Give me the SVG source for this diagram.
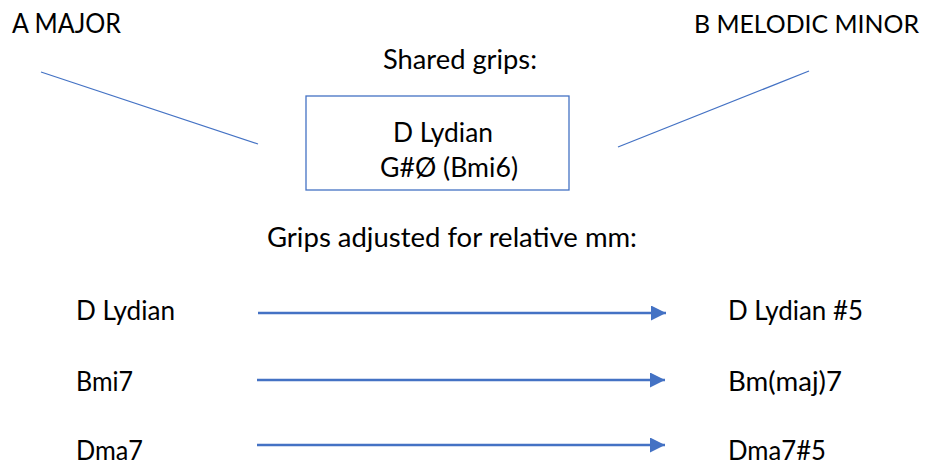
<svg xmlns="http://www.w3.org/2000/svg" width="925" height="465" viewBox="0 0 925 465">
<defs>
<style>
text{font-family:Lato,"Open Sans","Liberation Sans",sans-serif;font-size:27px;fill:#000}
.ln{stroke:#4472C4;stroke-width:1.3;fill:none}
.ar{stroke:#4472C4;stroke-width:2.5;fill:none}
</style>
<marker id="ah" viewBox="0 0 10 10" refX="10" refY="5" markerUnits="userSpaceOnUse" markerWidth="16" markerHeight="15" orient="auto">
<path d="M0,0L10,5L0,10Z" fill="#4472C4"/>
</marker>
</defs>
<rect width="925" height="465" fill="#fff"/>
<g id="a-major"><text x="12" y="33" textLength="109" lengthAdjust="spacingAndGlyphs">A MAJOR</text></g>
<g id="b-melodic-minor"><text x="694" y="33" style="font-size:25.5px" textLength="225" lengthAdjust="spacingAndGlyphs">B MELODIC MINOR</text></g>
<g id="shared-title"><text x="383" y="69" textLength="154" lengthAdjust="spacingAndGlyphs">Shared grips:</text></g>
<g id="shared-box">
<rect x="306" y="96" width="263" height="94" fill="none" stroke="#4472C4" stroke-width="1.3"/>
<text x="393" y="142" textLength="100" lengthAdjust="spacingAndGlyphs">D Lydian</text>
<text x="380" y="177" textLength="138" lengthAdjust="spacingAndGlyphs">G#Ø (Bmi6)</text>
</g>
<g id="adjusted-title"><text x="267" y="247" textLength="370" lengthAdjust="spacingAndGlyphs">Grips adjusted for relative mm:</text></g>
<g id="left-d-lydian"><text x="76" y="320" textLength="99" lengthAdjust="spacingAndGlyphs">D Lydian</text></g>
<g id="left-bmi7"><text x="76" y="391" textLength="57" lengthAdjust="spacingAndGlyphs">Bmi7</text></g>
<g id="left-dma7"><text x="76" y="460" textLength="67" lengthAdjust="spacingAndGlyphs">Dma7</text></g>
<g id="right-d-lydian5"><text x="728" y="320" textLength="135" lengthAdjust="spacingAndGlyphs">D Lydian #5</text></g>
<g id="right-bmmaj7"><text x="728" y="391" textLength="114" lengthAdjust="spacingAndGlyphs">Bm(maj)7</text></g>
<g id="right-dma7s5"><text x="728" y="460" textLength="98" lengthAdjust="spacingAndGlyphs">Dma7#5</text></g>
<g id="connectors">
<line class="ln" x1="41" y1="72" x2="258" y2="144"/>
<line class="ln" x1="618" y1="147" x2="809" y2="71"/>
<line class="ar" x1="258" y1="313" x2="666" y2="313" marker-end="url(#ah)"/>
<line class="ar" x1="257" y1="380" x2="665" y2="380" marker-end="url(#ah)"/>
<line class="ar" x1="257" y1="445" x2="665" y2="445" marker-end="url(#ah)"/>
</g>
</svg>
